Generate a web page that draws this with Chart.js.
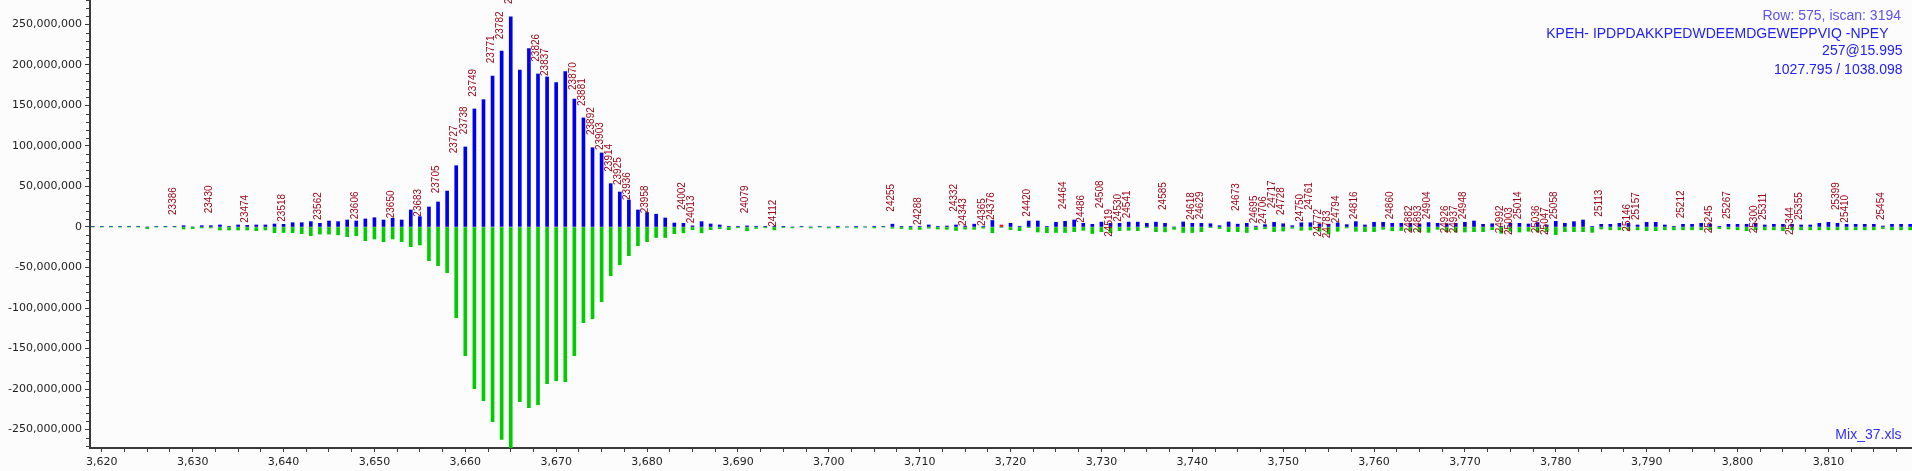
<!DOCTYPE html>
<html><head><meta charset="utf-8">
<script src="https://cdn.jsdelivr.net/npm/chart.js@4.4.1/dist/chart.umd.min.js"></script>
<style>html,body{margin:0;padding:0;background:#fcfcfc;overflow:hidden}#wrap{width:1912px;height:471px}</style>
</head><body><div id="wrap"><canvas id="c" width="1912" height="471"></canvas></div>
<script>
// x positions of the bars (axis units)
const positions = [3619,
 3620,3621,3622,3623,3624,3625,3626,3627,3628,3629,
 3630,3631,3632,3633,3634,3635,3636,3637,3638,3639,
 3640,3641,3642,3643,3644,3645,3646,3647,3648,3649,
 3650,3651,3652,3653,3654,3655,3656,3657,3658,3659,
 3660,3661,3662,3663,3664,3665,3666,3667,3668,3669,
 3670,3671,3672,3673,3674,3675,3676,3677,3678,3679,
 3680,3681,3682,3683,3684,3685,3686,3687,3688,3689,
 3690,3691,3692,3693,3694,3695,3696,3697,3698,3699,
 3700,3701,3702,3703,3704,3705,3706,3707,3708,3709,
 3710,3711,3712,3713,3714,3715,3716,3717,3718,3719,
 3720,3721,3722,3723,3724,3725,3726,3727,3728,3729,
 3730,3731,3732,3733,3734,3735,3736,3737,3738,3739,
 3740,3741,3742,3743,3744,3745,3746,3747,3748,3749,
 3750,3751,3752,3753,3754,3755,3756,3757,3758,3759,
 3760,3761,3762,3763,3764,3765,3766,3767,3768,3769,
 3770,3771,3772,3773,3774,3775,3776,3777,3778,3779,
 3780,3781,3782,3783,3784,3785,3786,3787,3788,3789,
 3790,3791,3792,3793,3794,3795,3796,3797,3798,3799,
 3800,3801,3802,3803,3804,3805,3806,3807,3808,3809,
 3810,3811,3812,3813,3814,3815,3816,3817,3818,3819];

// upper (blue) series, millions
const blueMillions = [0.8,
 0.8,0.8,0.8,0.8,0.8,0,0.8,0.8,0.8,1.6,
 0,1.6,1.6,2.5,0.8,2.5,2.0,2.5,2.5,3.7,
 3.3,5.3,5.3,6.6,4.5,7.4,6.6,8.6,7.4,9.9,
 11.5,8.6,10.7,8.6,21.0,12.8,24.7,30.9,44.4,75.7,
 98.8,145.7,157.2,186.4,217.3,259.3,193.8,220.2,188.9,185.2,
 178.2,191.7,158.0,134.6,97.9,91.4,53.5,43.2,33.3,21.0,
 17.9,15.8,11.1,4.9,4.5,1.4,6.6,3.7,2.5,0.8,
 0.8,1.4,0.8,0.8,0.8,0.8,0,0.8,0,0.8,
 0,0.8,0,0.8,0,0.8,0.8,3.5,0.8,0.8,
 0.8,2.5,0.8,1.2,2.5,1.2,3.5,0.8,8.0,0,
 4.5,0.8,7.4,7.4,0.8,5.8,7.0,8.6,4.5,3.3,
 6.0,4.5,4.5,6.0,6.0,4.5,6.0,4.5,0,6.2,
 4.5,4.5,4.0,1.6,6.2,3.5,4.5,1.0,2.9,5.8,
 4.0,1.6,5.2,5.2,3.5,3.5,5.0,2.9,6.6,2.5,
 5.8,5.8,4.5,4.5,4.5,3.5,5.5,4.5,4.0,4.5,
 5.8,7.4,3.3,4.0,0.8,4.5,4.5,3.7,5.5,2.5,
 7.0,4.5,6.6,8.6,0.8,3.3,3.3,4.5,4.5,2.5,
 5.8,5.8,2.5,0.8,3.3,3.3,4.5,3.3,0.8,3.3,
 3.3,3.3,4.5,2.5,3.3,3.3,3.3,2.5,2.5,4.5,
 5.8,4.5,3.3,3.3,3.3,3.3,1.2,3.3,3.3,3.3];

// mirrored (green) series, millions
const greenMillions = [0,
 0,0,0,0,0,-2.0,0,0,0,-2.5,
 -2.0,-1.2,-1.2,-3.7,-3.7,-3.7,-3.7,-4.5,-3.7,-7.0,
 -6.8,-7.0,-8.2,-10.8,-8.8,-8.8,-9.7,-12.0,-10.7,-16.9,
 -14.8,-18.1,-14.8,-18.1,-24.3,-22.2,-41.6,-47.7,-56.4,-112.0,
 -158.9,-199.6,-214.4,-240.4,-262.1,-276.0,-215.6,-223.0,-219.4,-193.4,
 -189.7,-191.0,-158.9,-118.1,-113.2,-92.2,-60.1,-46.5,-35.4,-23.1,
 -18.1,-13.0,-13.0,-8.2,-7.2,-3.3,-7.2,-3.3,-2.0,-3.3,
 -1.0,-4.7,-1.8,-1.0,-3.5,-0.8,-1.2,0,-1.2,0,
 -1.2,-1.2,0,-1.2,0,-1.2,0,-1.6,-2.0,-2.9,
 -3.1,-1.6,-2.5,-2.9,-4.3,-2.7,-2.9,-1.5,-7.0,0,
 -3.3,-4.5,-0.8,-6.2,-7.0,-6.8,-6.8,-5.8,-4.1,-8.0,
 -5.8,-7.0,-4.5,-4.1,-4.5,-0.8,-5.8,-6.0,-2.9,-6.8,
 -6.8,-5.8,-0.8,-2.0,-5.8,-5.8,-6.8,-3.3,-2.2,-5.8,
 -5.0,-1.6,-4.1,-3.7,-5.3,-8.6,-5.3,-1.2,-5.3,-5.8,
 -5.8,-2.9,-4.7,-4.3,-4.7,-5.8,-6.6,-2.9,-5.8,-6.2,
 -6.2,-5.8,-5.8,-3.3,-7.8,-5.3,-6.2,-5.3,-6.2,-5.8,
 -9.5,-5.8,-5.8,-5.8,-6.6,-2.5,-3.5,-3.5,-4.1,-3.5,
 -4.5,-4.5,-3.5,-3.5,-3.5,-3.5,-3.5,-3.5,-2.0,-2.5,
 -3.5,-4.5,-3.5,-3.5,-3.5,-4.5,-3.5,-3.5,-3.5,-3.5,
 -3.5,-3.5,-3.5,-3.5,-3.5,-3.5,-2.0,-3.5,-3.5,-3.5];

// single red marker peak
const redPositions = [3719];
const redMillions = [2.5];

// annotated peaks: position, label text, label anchor height (millions)
const labelPositions = [3628,3632,3636,3640,3644,3648,3652,3655,3657,3659,3660,3661,3663,3664,3665,3668,3669,3672,3673,3674,3675,3676,3677,3678,3680,3684,3685,3691,3694,3707,3710,3714,3715,3717,3718,3722,3726,3728,3730,3731,3732,3733,3737,3740,3741,3745,3747,3748,3749,3750,3752,3753,3754,3755,3756,3758,3762,3764,3765,3766,3768,3769,3770,3774,3775,3776,3778,3779,3780,3785,3788,3789,3794,3797,3799,3802,3803,3806,3807,3811,3812,3816];
const labelTexts = ['23386','23430','23474','23518','23562','23606','23650','23683','23705','23727','23738','23749','23771','23782','23793','23826','23837','23870','23881','23892','23903','23914','23925','23936','23958','24002','24013','24079','24112','24255','24288','24332','24343','24365','24376','24420','24464','24486','24508','24519','24530','24541','24585','24618','24629','24673','24695','24706','24717','24728','24750','24761','24772','24783','24794','24816','24860','24882','24893','24904','24926','24937','24948','24992','25003','25014','25036','25047','25058','25113','25146','25157','25212','25245','25267','25300','25311','25344','25355','25399','25410','25454'];
const labelHeightsMillions = [13.6,15.7,4.1,5.3,7.4,8.3,9.5,11.5,40.4,89.8,113.2,159.6,200.9,230.5,274,202.8,185.2,167.9,148.1,112.3,93.8,67,50.6,32.1,15.7,19.8,3.3,15.7,-0.9,17.7,1.2,17.7,0,0,7.4,11.5,20.6,4.1,21.9,-13.2,5.3,9.5,19.8,7.4,8.3,18.5,3.3,2.5,21.9,13.6,5.3,19.8,-13.2,-15.2,3.3,8.3,8.3,-9,-9,8.3,-9,-9,8.3,-9,-11.1,8.3,-9,-11.1,8.3,11.5,-7,7.4,9.5,-9,8.6,-9,7.4,-11.1,7.4,19.8,4.1,7.4];

// axis ticks
const yTickValues = [-250e6,-200e6,-150e6,-100e6,-50e6,0,50e6,100e6,150e6,200e6,250e6];
const xMin = 3618.7, xMax = 3819.2;
const yMin = -272.8e6, yMax = 280.2e6;
const infoLines = ['Row: 575, iscan: 3194','KPEH- IPDPDAKKPEDWDEEMDGEWEPPVIQ -NPEY','257@15.995','1027.795 / 1038.098'];
const fileName = 'Mix_37.xls';

const M = 1e6;
const fmt = v => Math.round(v).toLocaleString('en-US');
const pts = (xs, ys) => xs.map((x, i) => ({x: x, y: ys[i] * M}));

const axisColor = '#3a3a3a';

const overlayPlugin = {
  id: 'overlay',
  afterDatasetsDraw(chart) {
    const ctx = chart.ctx, xs = chart.scales.x, ys = chart.scales.y;
    ctx.save();
    ctx.font = '10px "Liberation Sans", Arial, sans-serif';
    ctx.fillStyle = '#9c0014';
    ctx.textAlign = 'left';
    ctx.textBaseline = 'middle';
    labelPositions.forEach((u, i) => {
      const px = xs.getPixelForValue(u) - 1.5;
      const py = ys.getPixelForValue(labelHeightsMillions[i] * M) - 1;
      ctx.save();
      ctx.translate(px, py);
      ctx.rotate(-Math.PI / 2);
      ctx.fillText(labelTexts[i], 0, 0);
      ctx.restore();
    });
    ctx.restore();
  },
  afterDraw(chart) {
    const ctx = chart.ctx, ys = chart.scales.y;
    ctx.save();
    // minor y ticks
    ctx.strokeStyle = axisColor; ctx.lineWidth = 1;
    for (let v = -270e6; v <= 280e6; v += 10e6) {
      if (Math.abs(v % 50e6) < 1) continue;
      const py = Math.round(ys.getPixelForValue(v)) + 0.5;
      ctx.beginPath(); ctx.moveTo(86, py); ctx.lineTo(89, py); ctx.stroke();
    }
    ctx.textAlign = 'right';
    ctx.textBaseline = 'alphabetic';
    ctx.font = '14px "Liberation Sans", Arial, sans-serif';
    ctx.fillStyle = '#5f52ee';
    ctx.fillText(infoLines[0], 1901, 19.5);
    ctx.fillStyle = '#2222f2';
    ctx.fillText(infoLines[1], 1888.5, 37.5);
    ctx.fillText(infoLines[2], 1902.5, 55);
    ctx.fillText(infoLines[3], 1902.5, 73.5);
    ctx.fillStyle = '#3030ff';
    ctx.fillText(fileName, 1901.5, 438.5);
    ctx.restore();
  }
};

new Chart(document.getElementById('c'), {
  type: 'bar',
  data: {
    datasets: [
      {label: 'red', data: pts(redPositions, redMillions), backgroundColor: '#ee1a1a', barThickness: 3, grouped: false, order: 1},
      {label: 'green', data: pts(positions, greenMillions), backgroundColor: '#00cc00', barThickness: 3, grouped: false, order: 2},
      {label: 'blue', data: pts(positions, blueMillions), backgroundColor: '#0000f0', barThickness: 3, grouped: false, order: 3},
      {label: 'stems', data: pts(labelPositions, labelHeightsMillions),
       backgroundColor: c => (c.raw && c.raw.y > 0) ? '#ffffff' : 'rgba(0,0,0,0)', barThickness: 1, grouped: false, order: 4}
    ]
  },
  options: {
    responsive: false, animation: false, devicePixelRatio: 1,
    layout: {padding: 0},
    plugins: {legend: {display: false}, tooltip: {enabled: false}},
    scales: {
      x: {
        type: 'linear', min: xMin, max: xMax, offset: false,
        afterFit(s) { s.height = 23; s.paddingLeft = 0; s.paddingRight = 0; },
        border: {display: true, color: axisColor, width: 2},
        grid: {drawOnChartArea: false, drawTicks: true, tickLength: 4, tickColor: axisColor, tickWidth: 1, offset: false},
        ticks: {stepSize: 2.5, includeBounds: false, autoSkip: false, maxRotation: 0, padding: 4,
          color: '#1e1e1e', font: {family: 'DejaVu Sans', size: 11},
          callback: v => (Math.abs(v / 10 - Math.round(v / 10)) < 1e-6) ? fmt(v) : ''}
      },
      y: {
        type: 'linear', min: yMin, max: yMax,
        afterBuildTicks(s) { s.ticks = yTickValues.map(v => ({value: v})); },
        afterFit(s) { s.width = 90; s.paddingTop = 0; s.paddingBottom = 0; },
        border: {display: true, color: axisColor, width: 2},
        grid: {drawOnChartArea: false, drawTicks: true, tickLength: 5, tickColor: axisColor, tickWidth: 1},
        ticks: {padding: 3, autoSkip: false,
          color: '#1e1e1e', font: {family: 'DejaVu Sans', size: 11},
          callback: v => fmt(v)}
      }
    }
  },
  plugins: [overlayPlugin]
});
</script>
</body></html>
